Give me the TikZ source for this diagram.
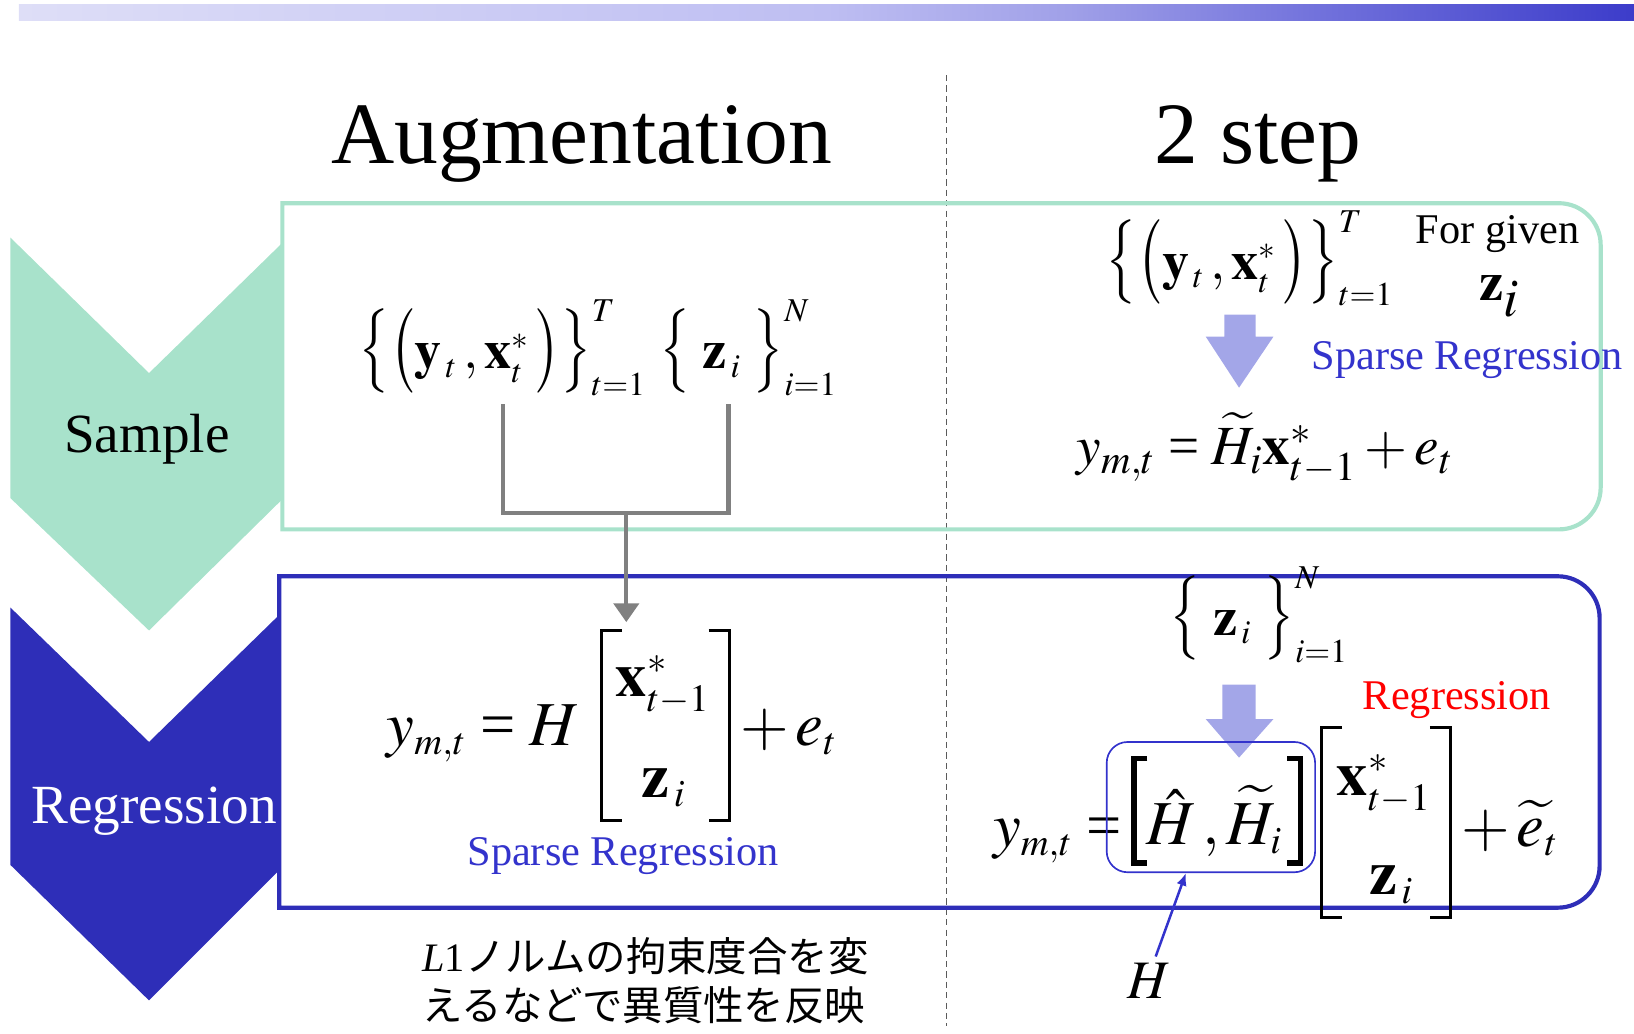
\documentclass[tikz,border=0pt]{standalone}
\usepackage{amsmath}
\usepackage{graphicx}
\usepackage{mathptmx}
\usepackage{fontspec}
\setmainfont{Liberation Serif}
\newfontfamily\jpfont{Noto Sans CJK JP}
\usetikzlibrary{arrows.meta}
\DeclareMathSizes{26}{26}{16}{12}
\DeclareMathSizes{30}{30}{18.5}{14}
\newcommand{\myLbr}[1]{\mathopen{\scalebox{1}[1.3]{$\big#1$}}}
\newcommand{\myRbr}[1]{\mathclose{\scalebox{1}[1.3]{$\big#1$}}}
\newcommand{\myeq}{\mathrel{\text{=}}}
\definecolor{mint}{RGB}{168,226,203}
\definecolor{navy}{RGB}{46,46,184}
\definecolor{sblue}{RGB}{51,51,204}
\definecolor{lav}{RGB}{163,166,232}
\definecolor{gline}{RGB}{128,128,128}
\definecolor{dashgray}{RGB}{90,90,90}
\definecolor{bar0}{RGB}{222,222,247}
\definecolor{bar1}{RGB}{190,190,242}
\definecolor{bar2}{RGB}{160,160,232}
\definecolor{bar3}{RGB}{115,115,220}
\definecolor{bar4}{RGB}{60,60,202}
\pgfdeclarehorizontalshading{barshade}{100bp}{color(0bp)=(bar0); color(25bp)=(bar0); color(50bp)=(bar1); color(57.5bp)=(bar2); color(65bp)=(bar3); color(75bp)=(bar4); color(100bp)=(bar4)}
\tikzset{
  mA/.style={font=\fontsize{26}{31}\selectfont, inner sep=0pt},
  mB/.style={font=\fontsize{30}{36}\selectfont, inner sep=0pt},
  lbl/.style={font=\fontsize{20.3}{24}\selectfont, inner sep=0pt},
  ttl/.style={font=\fontsize{42}{50}\selectfont, inner sep=0pt},
  chevtxt/.style={font=\fontsize{26.5}{32}\selectfont, inner sep=0pt},
  jp/.style={font=\fontsize{19.4}{23}\selectfont\jpfont, inner sep=0pt},
  conn/.style={draw=gline, line width=2pt},
  brk/.style={draw=black, line width=1.4pt},
  brkb/.style={draw=black, line width=2.6pt},
  lavarrow/.style={fill=lav, draw=none},
  dashline/.style={draw=dashgray, line width=0.7pt, dash pattern=on 3pt off 2pt},
  mintbox/.style={draw=mint, line width=2pt},
  navybox/.style={draw=navy, line width=2pt},
  bluearr/.style={draw=sblue, line width=1.2pt, -{Latex[length=6pt,width=5pt]}},
}
\begin{document}
\begin{tikzpicture}[x=0.5pt,y=-0.5pt]
\useasboundingbox (0,0) rectangle (1568,992);
% top gradient bar
\shade[shading=barshade] (18,4) rectangle (1568,20);
% dashed divider
\draw[dashline] (908,72) -- (908,985);
% titles
\node[ttl, anchor=base] (tAug) at (558,157) {Augmentation};
\node[ttl, anchor=base] (tTwo) at (1207,157) {2 step};
% chevrons
\fill[mint] (10,228) -- (143,358) -- (271,233) -- (271,479) -- (143,605) -- (10,478) -- cycle;
\fill[navy] (10,583) -- (143,712) -- (268,590) -- (268,835) -- (143,960) -- (10,830) -- cycle;
\node[chevtxt, anchor=base] (cSample) at (141,434) {Sample};
\node[chevtxt, anchor=base, text=white] (cReg) at (148,790) {Regression};
% lavender arrows
\fill[lavarrow] (1175,302) -- (1205,302) -- (1205,323) -- (1222,323) -- (1189,372) -- (1157,323) -- (1175,323) -- cycle;
\fill[lavarrow] (1173,657) -- (1205,657) -- (1205,690) -- (1222,690) -- (1189,727) -- (1157,690) -- (1173,690) -- cycle;
% boxes
\draw[mintbox] (271,508) -- (271,195) -- (1496,195) .. controls (1518,195) and (1536,213) .. (1536,235) -- (1536,468) .. controls (1536,490) and (1518,508) .. (1496,508) -- cycle;
\draw[navybox] (268,871) -- (268,553) -- (1495,553) .. controls (1517,553) and (1535,571) .. (1535,593) -- (1535,831) .. controls (1535,853) and (1517,871) .. (1495,871) -- cycle;
% ---- Sample / Augmentation
\node[mA, anchor=base] (ysetL) at (482,354) {$\myLbr\{\myLbr(\mathbf{y}_{\,t}\,,\mathbf{x}_{t}^{*}\,\myRbr)\myRbr\}_{t=1}^{T}$};
\node[mA, anchor=base] (zsetL) at (718,354) {$\myLbr\{\;\mathbf{z}_{\,i}\;\myRbr\}_{i=1}^{N}$};
\coordinate (cL) at (483,388);
\coordinate (cR) at (699,388);
\coordinate (cJ) at (601,492);
\coordinate (cA) at (601,597);
\draw[conn] (cL) |- (cJ) -| (cR);
\draw[conn, -{Triangle[length=9pt,width=12pt]}] (cJ) -- (cA);
% ---- Sample / 2 step
\node[mA, anchor=base] (ysetR) at (1199,268) {$\myLbr\{\myLbr(\mathbf{y}_{\,t}\,,\mathbf{x}_{t}^{*}\,\myRbr)\myRbr\}_{t=1}^{T}$};
\node[lbl, anchor=base] (forGiven) at (1437,234) {For given};
\node[mA, anchor=base] (zGiven) at (1439,288) {$\mathbf{z}_{\displaystyle i}$};
\node[lbl, anchor=base, text=sblue] (sparseR) at (1408,355) {Sparse Regression};
\node[mA, anchor=base, font=\fontsize{26.5}{31}\selectfont] (regTR) at (1214,446) {$y_{m,t} \myeq \widetilde{H}_{i}\mathbf{x}_{t-1}^{*} + e_{t}$};
% ---- Regression / Augmentation
\node[mB, anchor=base east] (lhsL) at (556,715) {$y_{m,t} \myeq H$};
\node[mB, anchor=base] (xL) at (636,668) {$\mathbf{x}_{t-1}^{*}$};
\node[mB, anchor=base] (zL) at (637,765) {$\mathbf{z}_{\,i}$};
\draw[brk] (597,605) -- (577,605) -- (577,787) -- (597,787);
\draw[brk] (680,605) -- (700,605) -- (700,787) -- (680,787);
\node[mB, anchor=base west] (rhsL) at (710,715) {$+\,e_{t}$};
\node[lbl, anchor=base, text=sblue] (sparseL) at (598,831) {Sparse Regression};
\node[jp, anchor=base west] (jp1) at (405,932) {{\rmfamily\itshape L}{\rmfamily 1}ノルムの拘束度合を変};
\node[jp, anchor=base west] (jp2) at (405,979) {えるなどで異質性を反映};
% ---- Regression / 2 step
\node[mA, anchor=base] (zsetR) at (1208,610) {$\myLbr\{\;\mathbf{z}_{\,i}\;\myRbr\}_{i=1}^{N}$};
\node[lbl, anchor=base, text=red] (regRed) at (1398,681) {Regression};
\node[mB, anchor=base east] (lhsR) at (1077,812) {$y_{m,t} \myeq$};
\node[draw=sblue, line width=0.8pt, rounded corners=10pt, minimum width=100pt, minimum height=62.5pt, inner sep=0pt] (HH) at (1162,774.5) {};
\node[mB, anchor=base] (HHtxt) at (1165,810) {$\hat{H}\,,\widetilde{H}_{i}$};
\draw[brkb] (1101,728) -- (1088,728) -- (1088,828) -- (1101,828);
\draw[brkb] (1235,728) -- (1248,728) -- (1248,828) -- (1235,828);
\node[mB, anchor=base] (xR) at (1328,763) {$\mathbf{x}_{t-1}^{*}$};
\node[mB, anchor=base] (zR) at (1335,858) {$\mathbf{z}_{\,i}$};
\draw[brk] (1288,698) -- (1268,698) -- (1268,880) -- (1288,880);
\draw[brk] (1372,698) -- (1392,698) -- (1392,880) -- (1372,880);
\node[mB, anchor=base west] (rhsR) at (1402,812) {$+\,\widetilde{e}_{t}$};
\node[mA, anchor=base] (Hlab) at (1103,958) {$H$};
\draw[bluearr] ([xshift=3pt,yshift=3pt]Hlab.north) -- ([xshift=-12pt]HH.south);
\end{tikzpicture}
\end{document}
